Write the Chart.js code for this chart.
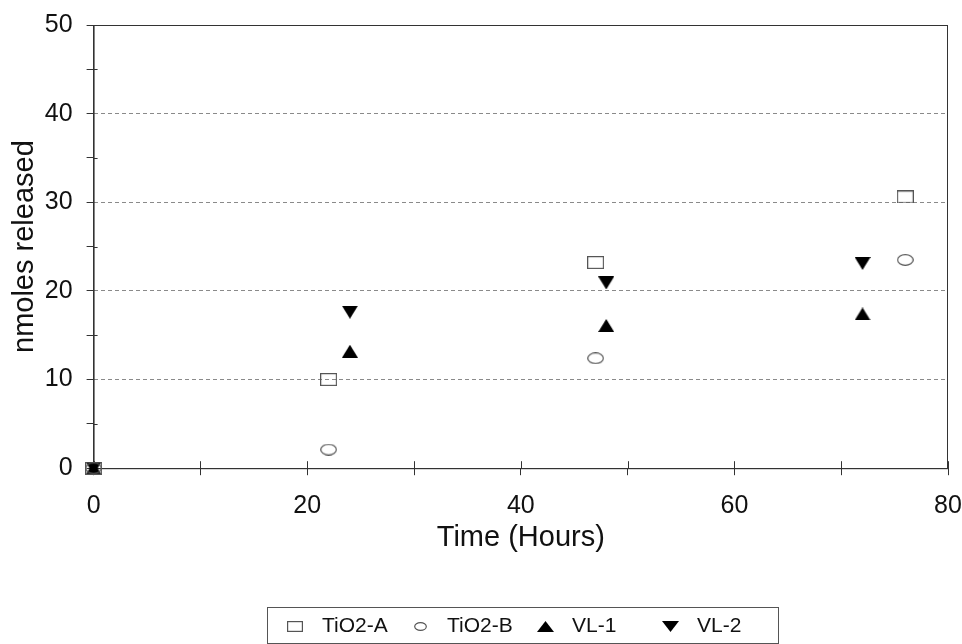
<!DOCTYPE html>
<html>
<head>
<meta charset="utf-8">
<script src="https://cdn.jsdelivr.net/npm/chart.js@4.4.1/dist/chart.umd.min.js"></script>
<style>
  html, body { margin: 0; padding: 0; background: #fff; }
  #wrap { width: 962px; height: 644px; }
</style>
</head>
<body>
<div id="wrap"><canvas id="releaseChart"></canvas></div>
<script>
// values
const seriesNames = ['TiO2-A', 'TiO2-B', 'VL-1', 'VL-2']
const hoursTiO2 = [0, 22, 47, 76]
const hoursVL = [0, 24, 48, 72]
const tio2A = [0, 10, 23.2, 30.6]
const tio2B = [0, 2.1, 12.4, 23.5]
const vl1 = [0, 13.2, 16.1, 17.4]
const vl2 = [0, 17.6, 20.9, 23.1]
const xTickLabels = [0, 20, 40, 60, 80]
const yTickLabels = [0, 10, 20, 30, 40, 50]

const FONT = "'Liberation Sans', Arial, sans-serif"

/**
 * Small canvas used as a point style.
 */
function makeMarker (shape, w, h) {
  const c = document.createElement('canvas')
  c.width = w
  c.height = h
  const g = c.getContext('2d')
  g.lineWidth = 1.2
  g.strokeStyle = '#555'
  g.fillStyle = '#000'
  if (shape === 'square') {
    g.strokeRect(0.6, 0.6, w - 1.2, h - 1.2)
  } else if (shape === 'ellipse') {
    g.beginPath()
    g.ellipse(w / 2, h / 2, w / 2 - 0.7, h / 2 - 0.7, 0, 0, Math.PI * 2)
    g.stroke()
  } else if (shape === 'up') {
    g.beginPath()
    g.moveTo(w / 2, 0)
    g.lineTo(w, h)
    g.lineTo(0, h)
    g.closePath()
    g.fill()
  } else {
    g.beginPath()
    g.moveTo(0, 0)
    g.lineTo(w, 0)
    g.lineTo(w / 2, h)
    g.closePath()
    g.fill()
  }
  return c
}

const plotMarkers = [
  makeMarker('square', 17, 13),
  makeMarker('ellipse', 17, 12),
  makeMarker('up', 16, 13),
  makeMarker('down', 16, 13)
]
const legendMarkers = [
  makeMarker('square', 16, 11),
  makeMarker('ellipse', 13, 9),
  makeMarker('up', 17, 11),
  makeMarker('down', 17, 11)
]

const toPoints = (xs, ys) => xs.map((x, i) => ({ x, y: ys[i] }))

const seriesData = [
  toPoints(hoursTiO2, tio2A),
  toPoints(hoursTiO2, tio2B),
  toPoints(hoursVL, vl1),
  toPoints(hoursVL, vl2)
]

// frame round the plot + ticks that cross the axes
const framePlugin = {
  id: 'frame',
  beforeDatasetsDraw (chart) {
    const { ctx, chartArea: a, scales } = chart
    ctx.save()
    ctx.strokeStyle = '#333'
    ctx.lineWidth = 1
    ctx.strokeRect(a.left + 0.5, a.top + 0.5, a.right - a.left - 1, a.bottom - a.top)
    ctx.beginPath()
    scales.x.ticks.forEach(t => {
      const px = Math.round(scales.x.getPixelForValue(t.value)) + 0.5
      ctx.moveTo(px, a.bottom - 7)
      ctx.lineTo(px, a.bottom)
    })
    scales.y.ticks.forEach(t => {
      if (yTickLabels.includes(t.value)) return
      const py = Math.round(scales.y.getPixelForValue(t.value)) + 0.5
      ctx.moveTo(a.left, py)
      ctx.lineTo(a.left + 4, py)
    })
    ctx.stroke()
    ctx.restore()
  }
}

// boxed legend with equal columns, like the original spreadsheet legend
const boxLegendPlugin = {
  id: 'boxLegend',
  afterDraw (chart) {
    const { ctx, chartArea: a } = chart
    const colWidth = 125
    const boxWidth = 511
    const left = Math.round((a.left + a.right) / 2 - 254)
    const top = 607
    const midY = 626
    ctx.save()
    ctx.strokeStyle = '#555'
    ctx.lineWidth = 1
    ctx.strokeRect(left + 0.5, top + 0.5, boxWidth, Math.min(36, chart.height - top - 1))
    ctx.font = '21px ' + FONT
    ctx.fillStyle = '#111'
    ctx.textBaseline = 'middle'
    ctx.textAlign = 'left'
    chart.data.datasets.forEach((ds, i) => {
      const mx = left + 28 + i * colWidth
      const m = legendMarkers[i]
      ctx.drawImage(m, Math.round(mx - m.width / 2), Math.round(midY - m.height / 2))
      ctx.fillText(ds.label, mx + 27, midY)
    })
    ctx.restore()
  }
}

document.addEventListener('DOMContentLoaded', () => {
  const ctx = document.getElementById('releaseChart').getContext('2d')

  new Chart(ctx, {
    type: 'scatter',
    data: {
      datasets: seriesNames.map((name, i) => ({
        label: name,
        data: seriesData[i],
        pointStyle: plotMarkers[i],
        pointRadius: 8,
        showLine: false,
        clip: false
      }))
    },
    options: {
      responsive: true,
      maintainAspectRatio: false,
      animation: false,
      layout: { padding: { top: 25, right: 14, left: 8, bottom: 89 } },
      plugins: {
        tooltip: { enabled: false },
        legend: { display: false }
      },
      scales: {
        x: {
          type: 'linear',
          min: 0,
          max: 80,
          afterFit: scale => {
            scale.paddingLeft = 0
            scale.paddingRight = 0
          },
          border: { color: '#333', width: 1 },
          grid: {
            drawOnChartArea: false,
            tickLength: 7,
            tickColor: '#333'
          },
          ticks: {
            stepSize: 10,
            autoSkip: false,
            maxRotation: 0,
            padding: 16,
            color: '#111',
            font: { family: FONT, size: 25 },
            callback: v => xTickLabels.includes(v) ? v : ''
          },
          title: {
            display: true,
            text: 'Time (Hours)',
            color: '#111',
            font: { family: FONT, size: 29 },
            padding: { top: -17, bottom: 0 }
          }
        },
        y: {
          type: 'linear',
          min: 0,
          max: 50,
          afterFit: scale => {
            scale.paddingTop = 0
            scale.paddingBottom = 0
          },
          border: { color: '#333', width: 1, dash: [4, 3] },
          grid: {
            color: c => (c.tick && c.tick.value % 10 === 0 && c.tick.value > 0 && c.tick.value < 50) ? '#8a8a8a' : 'rgba(0,0,0,0)',
            tickColor: '#333',
            tickLength: 7,
            tickBorderDash: []
          },
          ticks: {
            stepSize: 5,
            autoSkip: false,
            padding: 14,
            color: '#111',
            font: { family: FONT, size: 25 },
            callback: v => yTickLabels.includes(v) ? v : ''
          },
          title: {
            display: true,
            text: 'nmoles released',
            color: '#111',
            font: { family: FONT, size: 29 },
            padding: { top: 0, bottom: -12 }
          }
        }
      }
    },
    plugins: [framePlugin, boxLegendPlugin]
  })
})
</script>
</body>
</html>
